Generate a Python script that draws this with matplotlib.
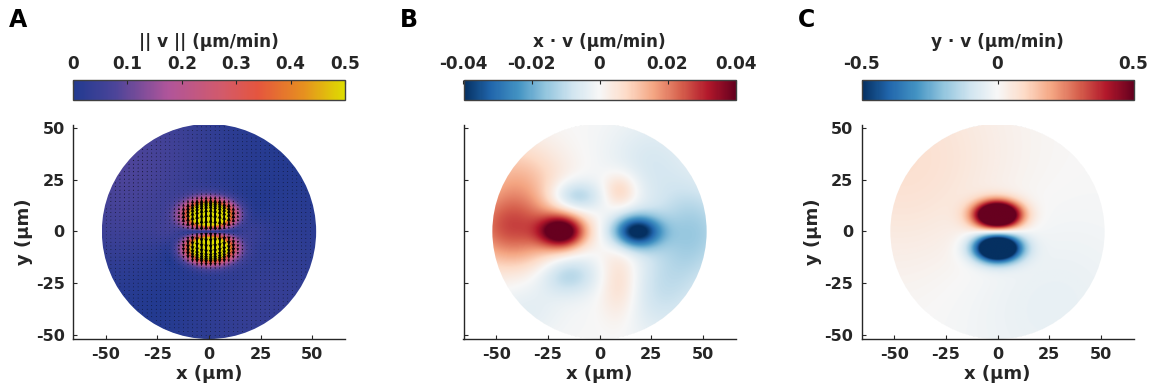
import numpy as np
import matplotlib
matplotlib.use('Agg')
import matplotlib.pyplot as plt
from matplotlib.colors import LinearSegmentedColormap
from matplotlib.patches import Circle

plt.rcParams['font.family'] = 'DejaVu Sans'
plt.rcParams['font.weight'] = 'bold'
plt.rcParams['axes.labelweight'] = 'bold'
plt.rcParams['text.color'] = '#262626'
plt.rcParams['axes.labelcolor'] = '#262626'
plt.rcParams['xtick.color'] = '#262626'
plt.rcParams['ytick.color'] = '#262626'

# disk radius (um)
R_disk = 52

# y-component of velocity: blob centres, widths, amplitudes (um, um/min)
vy_x = [0, 0, -45, 25]
vy_y = [8, -8, 35, -35]
vy_sx = [7.5, 7.5, 35, 30]
vy_sy = [4.5, 4.5, 35, 30]
vy_amp = [1.0, -1.0, 0.08, -0.04]

# x-component of velocity
vx_x = [-18, 18, -42, -40, 45, -12, 10, -15, 10, 25, 30, -35]
vx_y = [0, 0, 2, 28, 0, 17, 20, -21, -25, 35, -30, -38]
vx_sx = [7.5, 8, 17, 15, 14, 9, 6, 10, 7, 15, 15, 12]
vx_sy = [5.5, 5.5, 13, 12, 16, 5.5, 6, 7, 13, 15, 15, 10]
vx_amp = [0.042, -0.042, 0.026, 0.01, -0.014, -0.014, 0.01, -0.012, 0.009, -0.006, -0.008, -0.004]

mag_ticks = [0, 0.1, 0.2, 0.3, 0.4, 0.5]
mag_labels = ['0', '0.1', '0.2', '0.3', '0.4', '0.5']
vx_ticks = [-0.04, -0.02, 0, 0.02, 0.04]
vx_labels = ['-0.04', '-0.02', '0', '0.02', '0.04']
vy_ticks = [-0.5, 0, 0.5]
vy_labels = ['-0.5', '0', '0.5']
ax_ticks = [-50, -25, 0, 25, 50]


def field(X, Y, cx, cy, sx, sy, amp):
    f = np.zeros_like(X)
    for a, b, s1, s2, A in zip(cx, cy, sx, sy, amp):
        f += A * np.exp(-0.5 * ((X - a) / s1) ** 2 - 0.5 * ((Y - b) / s2) ** 2)
    return f


g = np.linspace(-R_disk, R_disk, 421)
X, Y = np.meshgrid(g, g)
inside = X ** 2 + Y ** 2 <= (R_disk + 0.5) ** 2
VX = field(X, Y, vx_x, vx_y, vx_sx, vx_sy, vx_amp)
VY = field(X, Y, vy_x, vy_y, vy_sx, vy_sy, vy_amp)
MAG = np.sqrt(VX ** 2 + VY ** 2)

cmap_mag = LinearSegmentedColormap.from_list('mag', [
    (0.0, '#223a90'), (0.15, '#4a4499'), (0.35, '#b0559a'),
    (0.55, '#d35a6a'), (0.68, '#e5553e'), (0.85, '#e6901f'), (1.0, '#dedd00')])

fig = plt.figure(figsize=(11.54, 3.92), dpi=100)
W, H = 1154.0, 392.0


def add_panel(x0, field_vals, cmap, vmin, vmax, ticks, labels, cblabel, letter, ylab, yticklab):
    ax = fig.add_axes([x0 / W, 1 - 339 / H, 272 / W, 214 / H])
    data = np.ma.masked_where(~inside, field_vals)
    im = ax.imshow(data, extent=[-R_disk, R_disk, -R_disk, R_disk], origin='lower',
                   cmap=cmap, vmin=vmin, vmax=vmax, interpolation='bilinear')
    im.set_clip_path(Circle((0, 0), R_disk, transform=ax.transData))
    ax.set_xlim(-66, 66)
    ax.set_ylim(-52, 51.5)
    ax.set_aspect('auto')
    for s in ['top', 'right']:
        ax.spines[s].set_visible(False)
    for s in ['left', 'bottom']:
        ax.spines[s].set_color('#262626')
        ax.spines[s].set_linewidth(1.0)
    ax.set_xticks(ax_ticks)
    ax.set_yticks(ax_ticks)
    ax.set_xticklabels([str(t) for t in ax_ticks])
    ax.tick_params(direction='in', length=3, labelsize=11.5, pad=6)
    if yticklab:
        ax.set_yticklabels([str(t) for t in ax_ticks])
    else:
        ax.set_yticklabels([])
    ax.set_xlabel('x (µm)', fontsize=13, labelpad=2)
    if ylab:
        ax.set_ylabel('y (µm)', fontsize=13, labelpad=2)

    cax = fig.add_axes([x0 / W, 1 - 100 / H, 272 / W, 20 / H])
    cb = fig.colorbar(im, cax=cax, orientation='horizontal', ticklocation='top')
    cb.set_ticks(ticks)
    cb.set_ticklabels(labels)
    cb.outline.set_edgecolor('#404040')
    cb.outline.set_linewidth(1.0)
    cax.tick_params(direction='in', length=3, labelsize=12.2, pad=5, color='#262626')
    cb.set_label(cblabel, fontsize=12.2, labelpad=6)
    fig.text((x0 - 64) / W, 1 - 20 / H, letter, fontsize=17, fontweight='bold',
             va='center', ha='left', color='black')
    return ax


axA = add_panel(73, MAG, cmap_mag, 0, 0.5, mag_ticks, mag_labels,
                '|| v || (µm/min)', 'A', True, True)
axB = add_panel(463.5, VX, 'RdBu_r', -0.04, 0.04, vx_ticks, vx_labels,
                'x · v (µm/min)', 'B', False, False)
axC = add_panel(861.5, VY, 'RdBu_r', -0.5, 0.5, vy_ticks, vy_labels,
                'y · v (µm/min)', 'C', True, True)

# velocity arrows on panel A
qx = np.arange(-R_disk, R_disk + 0.1, 2.2)
qy = np.arange(-R_disk, R_disk + 0.1, 1.8)
QX, QY = np.meshgrid(qx, qy)
keep = QX ** 2 + QY ** 2 <= (R_disk - 0.8) ** 2
QX, QY = QX[keep], QY[keep]
QU = field(QX, QY, vx_x, vx_y, vx_sx, vx_sy, vx_amp)
QV = field(QX, QY, vy_x, vy_y, vy_sx, vy_sy, vy_amp)
axA.quiver(QX, QY, QU, QV, color='black', angles='xy', scale_units='xy', scale=0.12,
           width=0.005, headwidth=3, headlength=3.5, headaxislength=3, pivot='middle',
           minlength=0.6, minshaft=1)

fig.savefig('out.png', dpi=100)
